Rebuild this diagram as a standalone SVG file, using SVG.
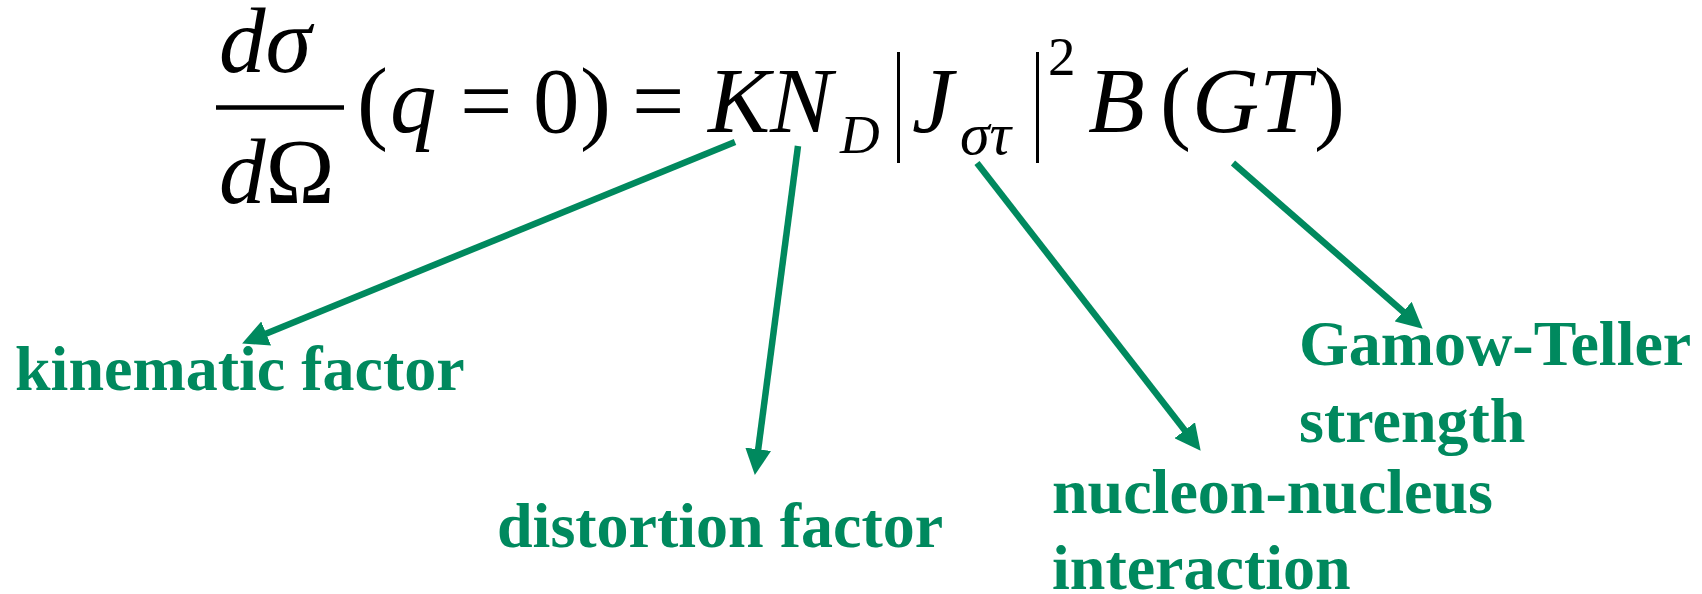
<svg xmlns="http://www.w3.org/2000/svg" width="1702" height="594" viewBox="0 0 1702 594">
  <style>
    .fm text { font-family: "Liberation Serif", "Times New Roman", serif; font-size: 93px; fill: #000; }
    .fm .i { font-style: italic; }
    .fm .s { font-size: 55px; }
    .fm .s2 { font-size: 60px; }
    .lbl { font-family: "Liberation Serif", "Times New Roman", serif; font-weight: bold; font-size: 64px; fill: #00895E; }
    .bar { stroke: #000; stroke-width: 3; }
    .conn { stroke: #00895E; stroke-width: 6.5; fill: none; marker-end: url(#ah); }
  </style>
  <defs>
    <marker id="ah" markerUnits="userSpaceOnUse" markerWidth="26" markerHeight="26" viewBox="0 0 26 26" refX="7" refY="13" orient="auto">
      <path d="M0,0 L26,13 L0,26 Z" fill="#00895E"/>
    </marker>
  </defs>

  <g id="formula" class="fm">
    <text class="i" x="219" y="72">dσ</text>
    <line x1="216" y1="107.5" x2="344" y2="107.5" stroke="#000" stroke-width="4.5"/>
    <text x="219" y="203"><tspan class="i">d</tspan>Ω</text>
    <text x="357" y="132">(</text>
    <text class="i" x="390" y="132">q</text>
    <text x="460" y="132">=</text>
    <text x="533" y="132">0</text>
    <text x="580" y="132">)</text>
    <text x="632" y="132">=</text>
    <text class="i" x="708" y="132">KN</text>
    <text class="i s" x="840" y="153">D</text>
    <line class="bar" x1="898.5" y1="52" x2="898.5" y2="163"/>
    <text class="i" x="912" y="132">J</text>
    <text class="i s2" x="960" y="154">στ</text>
    <line class="bar" x1="1037.5" y1="52" x2="1037.5" y2="163"/>
    <text class="s" x="1048" y="75">2</text>
    <text class="i" x="1088" y="132">B</text>
    <text x="1160" y="132">(</text>
    <text class="i" x="1192" y="132">GT</text>
    <text x="1314" y="132">)</text>
  </g>

  <g id="connectors">
    <line class="conn" x1="735" y1="142" x2="259.7" y2="336.2"/>
    <line class="conn" x1="798" y1="146" x2="757.3" y2="456.2"/>
    <line class="conn" x1="977" y1="163" x2="1189" y2="435.8"/>
    <line class="conn" x1="1233" y1="163" x2="1408.4" y2="316.2"/>
  </g>

  <g id="label-kinematic">
    <text class="lbl" x="15" y="390">kinematic factor</text>
  </g>
  <g id="label-distortion">
    <text class="lbl" x="497" y="547">distortion factor</text>
  </g>
  <g id="label-nucleon">
    <text class="lbl" x="1052" y="513">nucleon-nucleus</text>
    <text class="lbl" x="1052" y="589">interaction</text>
  </g>
  <g id="label-gamow-teller">
    <text class="lbl" x="1299" y="365">Gamow-Teller</text>
    <text class="lbl" x="1299" y="442">strength</text>
  </g>
</svg>
